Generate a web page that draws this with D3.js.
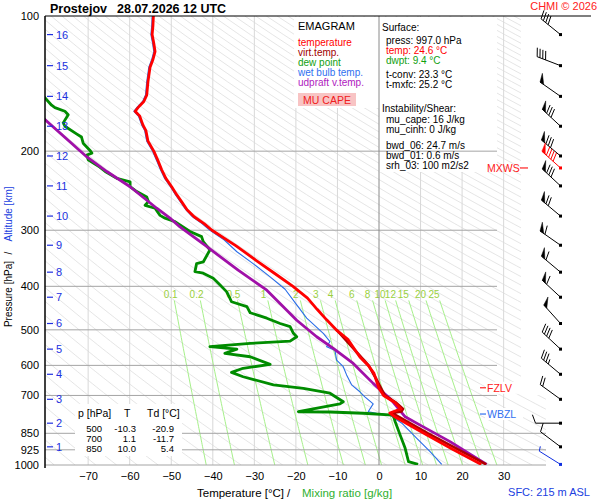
<!DOCTYPE html>
<html>
<head>
<meta charset="utf-8">
<script src="https://cdn.jsdelivr.net/npm/d3@7"></script>
<style>
  body { margin: 0; background: #fff; }
  svg { font-family: "Liberation Sans", Arial, sans-serif; }
</style>
</head>
<body>
<svg id="chart" width="600" height="500"></svg>
<script>
// sounding Prostejov 28.07.2026 12 UTC

const pressureTicks = [100, 200, 300, 400, 500, 600, 700, 850, 925, 1000];
const tempTicks = [-70, -60, -50, -40, -30, -20, -10, 0, 10, 20, 30];
const mixRatios = [0.1, 0.2, 0.5, 1, 2, 3, 4, 6, 8, 10, 12, 15, 20, 25];

// temperature
const tempP = [100,105,110,115,120,125,130,140,150,155,160,163,167,175,180,190,200,210,220,230,240,250,260,270,280,290,300,325,350,375,400,425,450,475,500,525,550,575,600,625,650,675,700,725,750,766,782,850,921,997];
const tempT = [-54.3,-54.4,-54.6,-54.2,-53.9,-54.4,-55.1,-55.6,-55.9,-56.6,-58.0,-58.7,-57.6,-56.8,-56.1,-55.6,-54.2,-53.2,-52.3,-51.3,-49.9,-48.7,-47.4,-46.2,-44.5,-42.1,-40.2,-34.4,-29.6,-25.0,-20.7,-17.2,-14.9,-12.6,-10.3,-7.5,-6.0,-4.6,-2.6,-1.2,-0.6,0.0,1.1,3.7,5.3,2.6,3.9,10.8,17.6,24.6];

// virtual temperature (only differs visibly in the lower part)
const virtP = [500,600,650,700,725,750,760,766,782,850,921,997];
const virtT = [-10.2,-2.5,-0.4,1.4,4.0,5.8,5.4,3.2,4.9,11.8,18.8,25.8];

// dew point
const dewP = [146,158,160,163,166,173,176,183,186,192,199,202,204,209,217,222,230,234,240,246,253,259,264,268,278,282,287,292,302,310,318,332,353,356,371,374,384,397,411,425,433,444,458,471,484,492,509,518,530,536,545,552,564,574,597,609,622,636,663,675,692,723,731,761,762,767,774,801,858,918,983,997];
const dewT = [-82.1,-78.8,-78.0,-75.6,-74.8,-76.0,-75.6,-72.8,-71.6,-71.2,-69.6,-69.1,-70.3,-70.0,-67.2,-65.9,-63.1,-59.9,-59.9,-58.3,-55.9,-55.5,-56.3,-53.9,-52.7,-51.5,-49.1,-47.9,-45.5,-42.7,-42.3,-40.7,-42.3,-43.9,-44.3,-42.3,-39.9,-38.3,-36.7,-35.9,-35.5,-31.8,-31.0,-27.0,-23.8,-21.4,-20.6,-19.8,-21.4,-31.0,-40.7,-34.2,-37.1,-31.0,-26.2,-32.7,-35.5,-32.7,-25.4,-18.2,-11.8,-8.6,-9.4,-19.4,-11.8,-3.8,3.4,3.9,5.1,6.3,7.1,9.4];

// wet bulb temperature
const wetP = [100,105,110,115,120,125,130,140,150,155,160,163,167,175,180,190,200,210,220,230,240,250,260,270,280,290,300,315,335,356,381,406,440,471,509,531,545,555,584,604,630,663,687,705,731,761,767,774,807,872,934,997];
const wetT = [-54.6,-54.7,-54.9,-54.5,-54.2,-54.7,-55.4,-55.9,-56.2,-56.9,-58.3,-59.0,-57.9,-57.1,-56.4,-55.9,-54.5,-53.5,-52.6,-51.6,-50.2,-49.0,-47.7,-46.5,-44.9,-42.6,-40.7,-37.3,-34.2,-30.3,-26.2,-22.6,-19.8,-17.4,-13.4,-11.8,-12.6,-10.6,-10.2,-8.6,-7.8,-6.6,-4.6,-3.4,-1.4,-2.6,-0.6,2.6,5.5,9.1,12.3,15.1];

// updraft (parcel) virtual temperature
const parcelP = [166,170,206,222,240,268,282,295,324,368,408,476,518,550,594,658,717,781,815,887,997];
const parcelT = [-82.1,-80.4,-70.3,-65.5,-59.9,-53.5,-50.3,-47.9,-41.9,-33.9,-27.0,-19.8,-15.0,-11.0,-6.2,-1.4,3.0,6.3,9.9,17.1,25.9];

// altitude marks (km) and their pressure
const heightKm = [16,15,14,13,12,11,10,9,8,7,6,5,4,3,2,1];
const heightP = [110,129,151,176,205,239,279,324,372,423,484,552,628,714,807,911];

// wind (barbs) : pressure, direction [deg], speed [kt]
const windP = [110,129,151,176,205,239,279,324,372,423,484,552,628,714,807,911,997];
const windDir = [309,291,305,313,310,313,310,305,310,313,318,313,310,306,270,307,302];
const windKt = [40,40,50,80,80,80,70,60,60,60,50,40,35,20,10,10,5];
const maxWind = { p: 218, dir: 312, kt: 90 };

const fzlvP = 673, wbzlP = 770;

const tableHead = ["p [hPa]", "T", "Td [°C]"];
const tableP = [500, 700, 850];
const tableT = ["-10.3", "1.1", "10.0"];
const tableTd = ["-20.9", "-11.7", "5.4"];

const legendItems = [
  ["temperature", "#ff0000"],
  ["virt.temp.", "#a00000"],
  ["dew point", "#10a010"],
  ["wet bulb temp.", "#3070f0"],
  ["udpraft v.temp.", "#b020c0"]
];
const surfaceLines = [
  ["Surface:", "#000", 0, 27],
  ["press: 997.0 hPa", "#000", 4, 40],
  ["temp: 24.6 °C", "#ff0000", 4, 50],
  ["dwpt: 9.4 °C", "#10a010", 4, 60],
  ["t-conv: 23.3 °C", "#000", 4, 74],
  ["t-mxfc: 25.2 °C", "#000", 4, 84],
  ["Instability/Shear:", "#000", 0, 108],
  ["mu_cape: 16 J/kg", "#000", 4, 119],
  ["mu_cinh: 0 J/kg", "#000", 4, 129],
  ["bwd_06: 24.7 m/s", "#000", 4, 145],
  ["bwd_01: 0.6 m/s", "#000", 4, 155],
  ["srh_03: 100 m2/s2", "#000", 4, 165]
];

const svg = d3.select("#chart");
const x = d3.scaleLinear().domain([-70, 30]).range([88.15, 503.65]);
const y = d3.scaleLog().domain([100, 1000]).range([16, 465]);

const defs = svg.append("defs");
defs.append("clipPath").attr("id", "plot")
  .append("rect").attr("x", 45).attr("y", 16).attr("width", 501).attr("height", 449);
defs.append("clipPath").attr("id", "adia")
  .append("polygon").attr("points", "45,16 521,16 521,395 546,395 546,465 45,465");

svg.append("rect").attr("width", 600).attr("height", 500).attr("fill", "#fff");

// isotherms
svg.append("g").selectAll("line").data(tempTicks.filter(t => t !== 0)).join("line")
  .attr("x1", d => x(d)).attr("x2", d => x(d))
  .attr("y1", y(100)).attr("y2", y(1000))
  .attr("stroke", "#d8d8d8").attr("stroke-width", 1);

// dry adiabats
const adiaP = d3.range(100, 1001, 10);
const thetas = d3.range(190, 605, 5);
const adiaLine = d3.line().x(p => x(p[1])).y(p => y(p[0]));
svg.append("g").attr("clip-path", "url(#adia)")
  .selectAll("path").data(thetas).join("path")
  .attr("d", th => adiaLine(adiaP.map(p => [p, th * Math.pow(p / 1000, 0.2857) - 273.15])))
  .attr("fill", "none").attr("stroke", "#dadada").attr("stroke-width", 0.7);

// mixing ratio lines
function mixT(w, p) {
  const l = Math.log(w * p / (622 + w) / 6.112);
  return 243.5 * l / (17.67 - l);
}
const mixP = d3.range(430, 1001, 10);
const mixG = svg.append("g").attr("clip-path", "url(#plot)");
mixG.selectAll("path").data(mixRatios).join("path")
  .attr("d", w => adiaLine(mixP.map(p => [p, mixT(w, p)])))
  .attr("fill", "none").attr("stroke", "#a6f08a").attr("stroke-width", 1);
svg.append("g").selectAll("text").data(mixRatios).join("text")
  .attr("x", w => x(mixT(w, 400)) - 1).attr("y", 298)
  .attr("text-anchor", "middle").attr("font-size", 10).attr("fill", "#9ad040")
  .text(d => d);

// legend and surface panels
svg.append("rect").attr("x", 294).attr("y", 17).attr("width", 85).attr("height", 91).attr("fill", "#fff");
svg.append("rect").attr("x", 379).attr("y", 17).attr("width", 118).attr("height", 155).attr("fill", "#fff");

// isobars
svg.append("g").selectAll("line").data(pressureTicks.filter(p => p > 100)).join("line")
  .attr("x1", 45).attr("x2", p => p >= 850 ? 546 : 497)
  .attr("y1", p => y(p)).attr("y2", p => y(p))
  .attr("stroke", "#a4a4a4").attr("stroke-width", 1);
svg.append("line").attr("x1", x(0)).attr("x2", x(0)).attr("y1", y(100)).attr("y2", y(1000))
  .attr("stroke", "#8a8a8a").attr("stroke-width", 1);

// profiles
const prof = svg.append("g").attr("clip-path", "url(#plot)");
const line = d3.line().x(d => x(d[1])).y(d => y(d[0]));
function profile(ps, ts, color, w) {
  prof.append("path").datum(d3.zip(ps, ts)).attr("d", line)
    .attr("fill", "none").attr("stroke", color).attr("stroke-width", w)
    .attr("stroke-linejoin", "round");
}
profile(wetP, wetT, "#2a6ee8", 1.1);
profile(dewP, dewT, "#008c00", 2.8);
profile(parcelP, parcelT, "#a010a8", 2.8);
profile(virtP, virtT, "#b00000", 2.6);
profile(tempP, tempT, "#ff0000", 2.8);

// data table
svg.append("rect").attr("x", 75).attr("y", 404).attr("width", 107).attr("height", 52).attr("fill", "#fff");
const tbl = svg.append("g").attr("font-size", 9.5).attr("fill", "#000");
tbl.append("text").attr("x", 78).attr("y", 417).attr("font-size", 10.5).text(tableHead[0]);
tbl.append("text").attr("x", 124).attr("y", 417).attr("font-size", 10.5).text(tableHead[1]);
tbl.append("text").attr("x", 147).attr("y", 417).attr("font-size", 10.5).text(tableHead[2]);
tableP.forEach((p, i) => {
  const yy = 432 + i * 10;
  tbl.append("text").attr("x", 102).attr("y", yy).attr("text-anchor", "end").text(p);
  tbl.append("text").attr("x", 136).attr("y", yy).attr("text-anchor", "end").text(tableT[i]);
  tbl.append("text").attr("x", 174).attr("y", yy).attr("text-anchor", "end").text(tableTd[i]);
});

// axes
const yAxis = svg.append("g").attr("transform", "translate(45,0)")
  .call(d3.axisLeft(y).tickValues(pressureTicks).tickFormat(d3.format("d")).tickSize(0).tickSizeOuter(0).tickPadding(6));
yAxis.select(".domain").attr("stroke", "#000").attr("stroke-width", 1.5).attr("d", "M0,16V468");
yAxis.selectAll("text").attr("font-size", 11).attr("font-family", "Liberation Sans, Arial, sans-serif").attr("fill", "#000");

const xAxis = svg.append("g").attr("transform", "translate(0,465)")
  .call(d3.axisBottom(x).tickValues(tempTicks).tickSize(0).tickPadding(7));
xAxis.select(".domain").remove();
xAxis.selectAll("text").attr("font-size", 11).attr("font-family", "Liberation Sans, Arial, sans-serif").attr("fill", "#000");

svg.append("line").attr("x1", 45).attr("x2", 591).attr("y1", 16).attr("y2", 16)
  .attr("stroke", "#000").attr("stroke-width", 1.2);

// altitude marks
const alt = svg.append("g").attr("fill", "#2030e0").attr("font-size", 11);
heightKm.forEach((k, i) => {
  const yy = y(heightP[i]);
  alt.append("line").attr("x1", 47).attr("x2", 53).attr("y1", yy).attr("y2", yy)
    .attr("stroke", "#2030e0").attr("stroke-width", 1.2);
  alt.append("text").attr("x", 56).attr("y", yy + 4).text(k);
});

// titles
svg.append("text").attr("x", 50).attr("y", 13).attr("font-size", 12.5).attr("font-weight", "bold").text("Prostejov");
svg.append("text").attr("x", 117).attr("y", 13).attr("font-size", 12.5).attr("font-weight", "bold").text("28.07.2026 12 UTC");
svg.append("text").attr("x", 597).attr("y", 10).attr("text-anchor", "end").attr("font-size", 11).attr("fill", "#ff2020").text("CHMI © 2026");

// axis titles
function rotLabel(txt, cy, color) {
  svg.append("text").attr("transform", `translate(12,${cy}) rotate(-90)`)
    .attr("text-anchor", "middle").attr("font-size", 10).attr("fill", color).text(txt);
}
rotLabel("Pressure [hPa]", 294, "#000");
rotLabel("/", 253, "#000");
rotLabel("Altitude [km]", 214, "#2040e0");

svg.append("text").attr("x", 197).attr("y", 497).attr("font-size", 11.5).attr("fill", "#000").text("Temperature [°C]");
svg.append("text").attr("x", 287).attr("y", 497).attr("font-size", 11.5).attr("fill", "#000").text("/");
svg.append("text").attr("x", 302).attr("y", 497).attr("font-size", 11.5).attr("fill", "#30b030").text("Mixing ratio [g/kg]");

svg.append("text").attr("x", 590).attr("y", 496).attr("text-anchor", "end").attr("font-size", 11).attr("fill", "#2040e0").text("SFC: 215 m ASL");

// legend
const lg = svg.append("g").attr("font-size", 10);
lg.append("text").attr("x", 298).attr("y", 30).attr("font-size", 11).attr("fill", "#000").text("EMAGRAM");
legendItems.forEach((d, i) => {
  lg.append("text").attr("x", 298).attr("y", 46 + i * 10).attr("fill", d[1]).text(d[0]);
});
lg.append("rect").attr("x", 298).attr("y", 93).attr("width", 58).attr("height", 13).attr("fill", "#f8c4c4");
lg.append("text").attr("x", 327).attr("y", 104).attr("text-anchor", "middle").attr("font-size", 10.5).attr("fill", "#f02020").text("MU CAPE");

// surface info
const inf = svg.append("g").attr("font-size", 10);
surfaceLines.forEach(d => {
  inf.append("text").attr("x", 382 + d[2]).attr("y", d[3] + 4).attr("fill", d[1]).text(d[0]);
});

// level marks
function levelMark(p, label, color, boxed) {
  const yy = y(p);
  if (boxed) svg.append("rect").attr("x", 485).attr("y", yy - 6).attr("width", 38).attr("height", 12).attr("fill", "#fff");
  svg.append("line").attr("x1", 480).attr("x2", 486).attr("y1", yy).attr("y2", yy).attr("stroke", color).attr("stroke-width", 1.2);
  svg.append("text").attr("x", 487).attr("y", yy + 4).attr("font-size", 10.5).attr("fill", color).text(label);
}
levelMark(fzlvP, "FZLV", "#ff2020", true);
levelMark(wbzlP, "WBZL", "#3070f0", true);
svg.append("text").attr("x", 487).attr("y", y(maxWind.p) + 4).attr("font-size", 10.5).attr("fill", "#ff2020").text("MXWS");
svg.append("line").attr("x1", 520).attr("x2", 528).attr("y1", y(maxWind.p)).attr("y2", y(maxWind.p))
  .attr("stroke", "#ff2020").attr("stroke-width", 1.2);

// wind barbs
const barbs = svg.append("g");
function barb(p, dir, kt, color) {
  const px = 560.5, py = y(p);
  const r = dir * Math.PI / 180;
  const ux = Math.sin(r), uy = -Math.cos(r);
  const a = 70 * Math.PI / 180;
  const fx = ux * Math.cos(a) - uy * Math.sin(a), fy = ux * Math.sin(a) + uy * Math.cos(a);
  const len = 25, fl = 9;
  const ex = px + ux * len, ey = py + uy * len;
  const g = barbs.append("g").attr("stroke", color).attr("fill", color);
  g.append("line").attr("x1", px).attr("y1", py).attr("x2", ex).attr("y2", ey).attr("stroke-width", 1);
  g.append("rect").attr("x", px - 1.5).attr("y", py - 1.5).attr("width", 3).attr("height", 3).attr("stroke", "none");
  let s = Math.round(kt / 5) * 5, pos = 0;
  const at = d => [ex - ux * d, ey - uy * d];
  while (s >= 50) {
    const b0 = at(pos), b1 = at(pos + 4.5);
    g.append("polygon").attr("points", [b0, [b0[0] + fx * fl, b0[1] + fy * fl], b1].map(q => q.join(",")).join(" "))
      .attr("stroke-width", 0.5);
    pos += 6; s -= 50;
  }
  while (s >= 10) {
    const b = at(pos);
    g.append("line").attr("x1", b[0]).attr("y1", b[1]).attr("x2", b[0] + fx * fl).attr("y2", b[1] + fy * fl).attr("stroke-width", 1);
    pos += 3; s -= 10;
  }
  if (s >= 5) {
    const b = at(pos);
    g.append("line").attr("x1", b[0]).attr("y1", b[1]).attr("x2", b[0] + fx * fl * 0.55).attr("y2", b[1] + fy * fl * 0.55).attr("stroke-width", 1);
  }
}
windP.forEach((p, i) => {
  barb(p, windDir[i], windKt[i], i === windP.length - 1 ? "#1030e0" : "#000");
});
barb(maxWind.p, maxWind.dir, maxWind.kt, "#ff0000");
</script>
</body>
</html>
